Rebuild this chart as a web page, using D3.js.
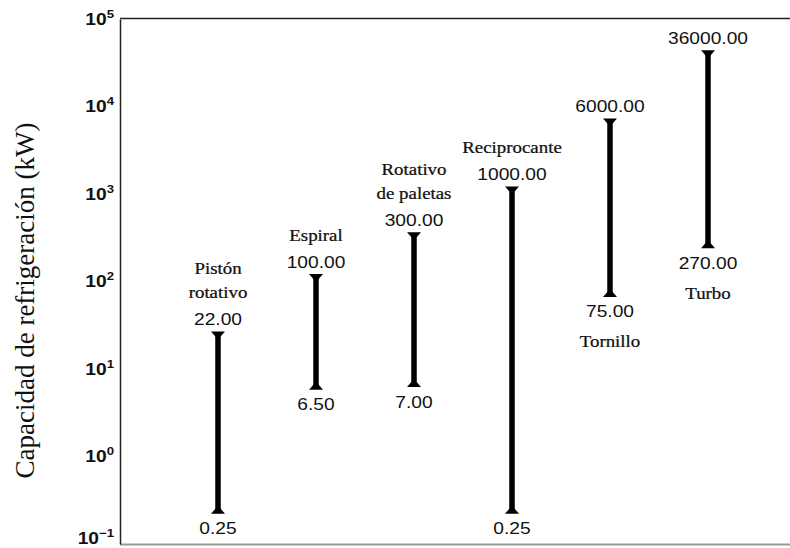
<!DOCTYPE html>
<html>
  <head>
    <meta charset="utf-8">
    <title>Capacidad de refrigeración</title>
    <script src="https://d3js.org/d3.v7.min.js"></script>
    <style>
      body { margin: 0; background: #fff; }
      .num { font-family: "Liberation Sans", Arial, sans-serif; font-size: 16px; fill: #111; }
      .name { font-family: "Liberation Serif", "Times New Roman", serif; font-size: 16px; fill: #111; }
      .bar .name { stroke: #111; stroke-width: 0.25px; }
      .tick text { font-family: "Liberation Sans", Arial, sans-serif; font-weight: bold; fill: #111; }
    </style>
  </head>
  <body>
    <div id="vis"></div>
    <script>
        const width = 790;
        const height = 548;

        // chart data
        const categories = ["Pistón rotativo", "Espiral", "Rotativo de paletas", "Reciprocante", "Tornillo", "Turbo"];
        const minCap = [0.25, 6.5, 7, 0.25, 75, 270];
        const maxCap = [22, 100, 300, 1000, 6000, 36000];
        const nameLines = [["Pistón", "rotativo"], ["Espiral"], ["Rotativo", "de paletas"], ["Reciprocante"], ["Tornillo"], ["Turbo"]];
        const nameSide = ["top", "top", "top", "top", "bottom", "bottom"];
        const tickExps = [-1, 0, 1, 2, 3, 4, 5];
        const yTitle = "Capacidad de refrigeración (kW)";

        const rows = categories.map((c, i) => ({
          name: c, lo: minCap[i], hi: maxCap[i], lines: nameLines[i], side: nameSide[i]
        }));

        const plotLeft = 120, plotTop = 19, plotBottom = 544;

        let vis = d3.select('#vis')
                    .append('svg')
                    .attr('width', width)
                    .attr('height', height);

        const x = d3.scalePoint()
                    .domain(categories)
                    .range([plotLeft, plotLeft + 7 * 98])
                    .padding(1);

        const y = d3.scaleLog()
                    .domain([0.1, 1e5])
                    .range([plotBottom, plotTop]);

        // frame lines (top and bottom)
        vis.append("line")
           .attr("x1", plotLeft).attr("x2", width)
           .attr("y1", plotTop - 0.5).attr("y2", plotTop - 0.5)
           .attr("stroke", "#222").attr("stroke-width", 1.5);
        vis.append("line")
           .attr("x1", plotLeft).attr("x2", width)
           .attr("y1", plotBottom + 0.5).attr("y2", plotBottom + 0.5)
           .attr("stroke", "#999").attr("stroke-width", 2);

        // y axis with power-of-ten labels
        const yAxis = vis.append("g")
           .attr("transform", `translate(${plotLeft},0)`)
           .call(d3.axisLeft(y)
                   .tickValues(tickExps.map(e => Math.pow(10, e)))
                   .tickSize(0)
                   .tickFormat(""));
        yAxis.select(".domain").attr("stroke", "#222").attr("stroke-width", 1.5);

        yAxis.selectAll(".tick text").remove();
        yAxis.selectAll(".tick").each(function(d) {
          const e = Math.round(Math.log10(d));
          // lowest label sits a little higher so it stays inside the picture
          const dy = e === tickExps[0] ? -1 : 5;
          const t = d3.select(this).append("text")
                      .attr("text-anchor", "end")
                      .attr("transform", `translate(-6,${dy}) scale(1.2,1)`);
          t.append("tspan").attr("font-size", 16).text("10");
          t.append("tspan").attr("font-size", 11).attr("dy", -7)
           .text(e < 0 ? "\u2212" + (-e) : e);
        });

        // y title
        vis.append("text")
           .attr("class", "name")
           .attr("transform", `translate(34,${(plotTop + plotBottom) / 2 + 19}) rotate(-90)`)
           .attr("text-anchor", "middle")
           .style("font-size", "27px")
           .text(yTitle);

        // bars
        const g = vis.append("g");
        const bar = g.selectAll("g.bar")
                     .data(rows)
                     .enter()
                     .append("g")
                     .attr("class", "bar")
                     .attr("transform", d => `translate(${x(d.name)},0)`);

        bar.append("line")
           .attr("y1", d => y(d.hi) - 6)
           .attr("y2", d => y(d.lo) + 3)
           .attr("stroke", "#000")
           .attr("stroke-width", 5.5);

        // top marker: triangle pointing down
        bar.append("path")
           .attr("d", d => `M-7,${y(d.hi) - 7.5}H7L0,${y(d.hi) + 0.5}Z`)
           .attr("fill", "#000");
        // bottom marker: triangle pointing up
        bar.append("path")
           .attr("d", d => `M-7,${y(d.lo) + 4.5}H7L0,${y(d.lo) - 3.5}Z`)
           .attr("fill", "#000");

        const fmt = d3.format(".2f");

        bar.append("text")
           .attr("class", "num")
           .attr("text-anchor", "middle")
           .attr("transform", d => `translate(0,${y(d.hi) - 14}) scale(1.2,1)`)
           .text(d => fmt(d.hi));

        bar.append("text")
           .attr("class", "num")
           .attr("text-anchor", "middle")
           .attr("transform", d => `translate(0,${y(d.lo) + 25}) scale(1.2,1)`)
           .text(d => fmt(d.lo));

        // category names
        bar.each(function(d) {
          const n = d.lines.length;
          d3.select(this).selectAll("text.name")
            .data(d.lines)
            .enter()
            .append("text")
            .attr("class", "name")
            .attr("text-anchor", "middle")
            .attr("transform", (s, i) => {
              const yy = d.side === "top"
                ? y(d.hi) - 14 - 27 - (n - 1 - i) * 24
                : y(d.lo) + 25 + 30 + i * 24;
              return `translate(0,${yy}) scale(1.18,1)`;
            })
            .text(s => s);
        });
    </script>
  </body>
</html>
